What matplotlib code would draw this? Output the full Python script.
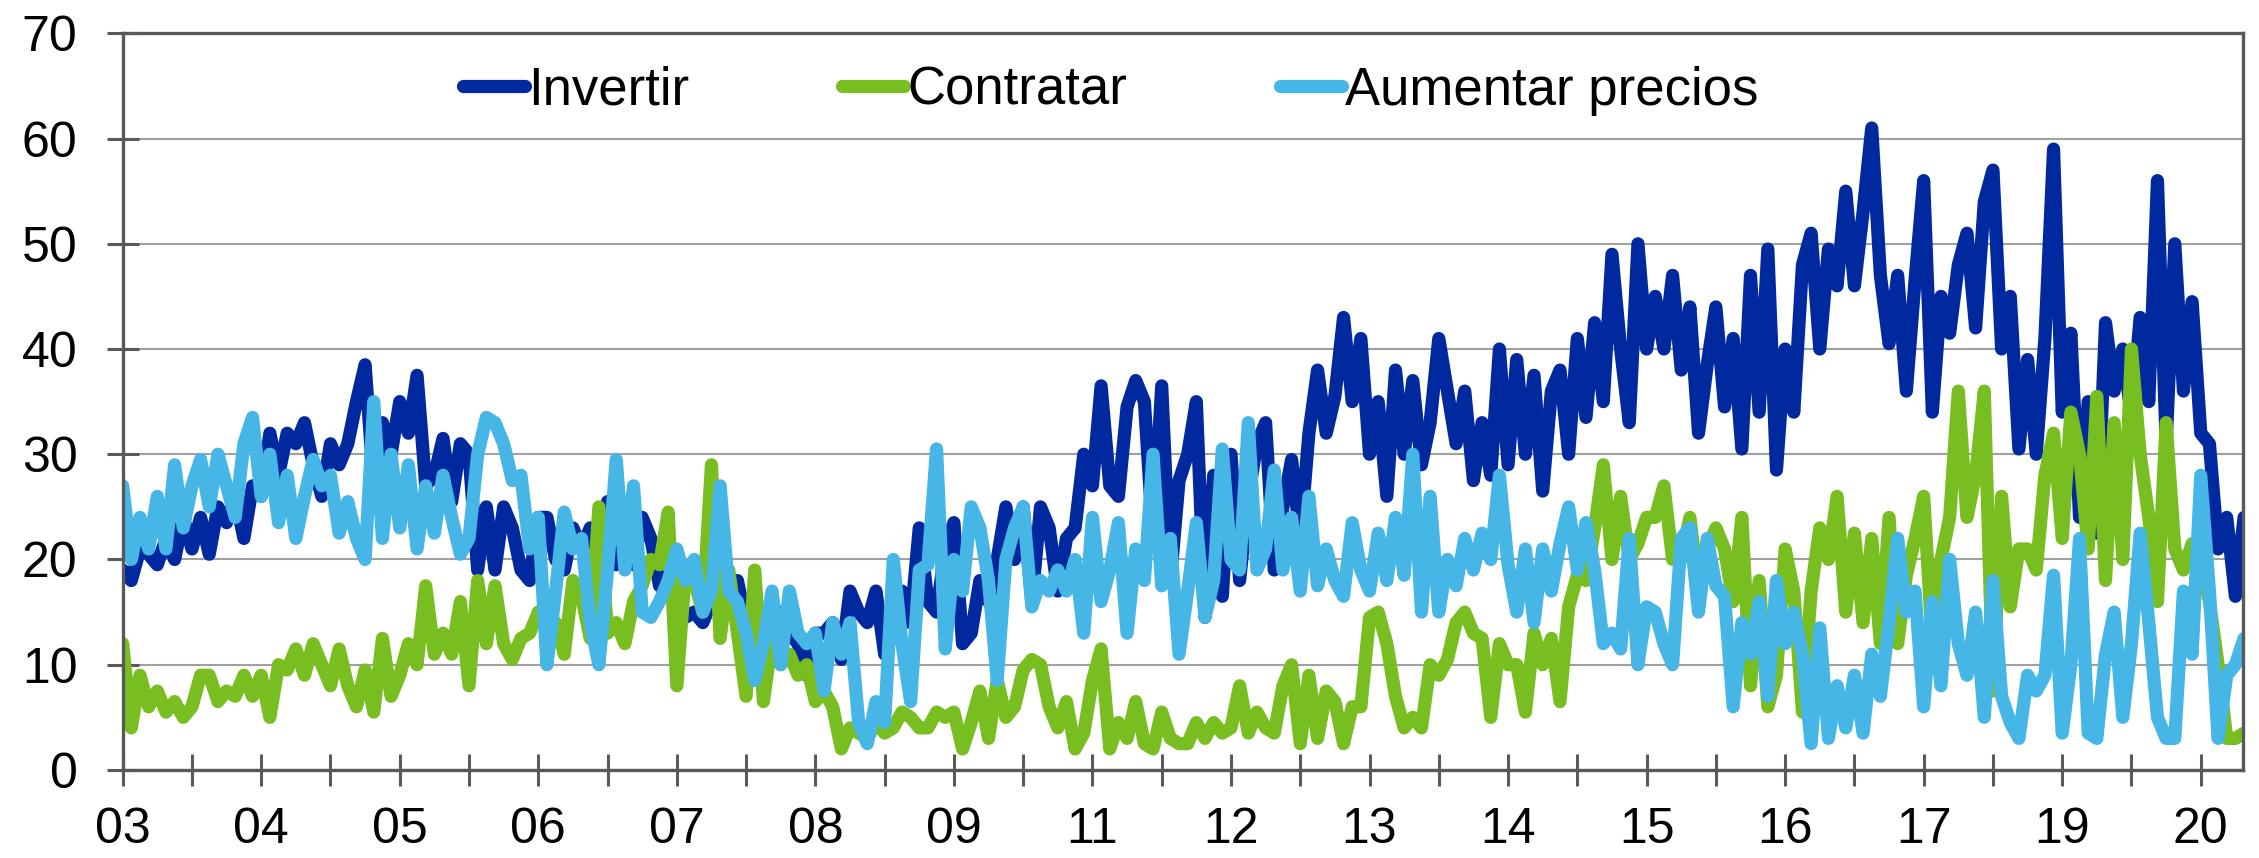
import numpy as np
import matplotlib
matplotlib.use("Agg")
import matplotlib.pyplot as plt

plt.rcParams['font.family'] = ['Liberation Sans', 'DejaVu Sans']

# etiquetas del eje x (una cada dos marcas)
year_labels = ['03', '04', '05', '06', '07', '08', '09', '11', '12',
               '13', '14', '15', '16', '17', '19', '20']
series_names = ['Invertir', 'Contratar', 'Aumentar precios']
series_colors = ['#0029a0', '#78be20', '#45b6e6']

# valores, 8 puntos por marca del eje x
invertir = [
    19, 18, 21, 20.5, 19.5, 22, 20, 24, 21, 24, 20.5, 25, 23.5, 26, 22, 27, 26, 32, 28, 32,
    31, 33, 29, 26, 31, 29, 31, 35, 38.5, 27, 33, 30, 35, 32, 37.5, 27, 28, 31.5, 25.5, 31, 30,
    19, 25, 19, 25, 23, 19, 18, 24, 24, 20, 19, 23, 21, 23, 20, 25.5, 19.5, 21, 19.5, 24,
    22, 17.5, 18.5, 17, 14.5, 15, 14, 16, 17, 17.5, 18, 14, 13.5, 14.5, 13, 15, 13, 12, 9, 13,
    13, 14, 10.5, 17, 15,
    14, 17, 11, 14, 17, 14, 23, 16, 15, 21, 23.5, 12, 13, 18, 16, 20, 25, 20, 25, 16,
    25, 23, 17, 22, 23, 30, 27, 36.5, 27, 26, 34.5, 37, 35, 22, 36.5, 18, 27.5, 30, 35, 14.5,
    28, 16.5, 30, 18, 26, 31,
    33, 19, 25, 29.5, 22, 32, 38, 32, 35.5, 43, 35, 41, 30, 35, 26, 38, 30, 37, 29, 33,
    41, 36, 31, 36, 27.5, 33, 28, 40, 29, 39, 30, 37.5, 26.5, 36, 38, 30, 41, 33.5, 42.5, 35,
    49, 40, 33, 50, 40,
    45, 40, 47, 38, 44, 32, 38.5, 44, 34.5, 41, 30.5, 47, 34, 49.5, 28.5, 40, 34, 48, 51, 40,
    49.5, 46, 55, 46, 53, 61, 47, 40.5, 47, 36, 46.5, 56, 34, 45, 41.5, 48,
    51, 42, 54, 57, 40, 45, 30.5, 39, 30, 41, 59, 34, 41.5, 24, 35, 22.5, 42.5, 36, 40, 33.5,
    43, 35, 56, 31, 50, 36, 44.5, 32, 31, 21, 24, 16.5, 24,
]

contratar = [
    12, 4, 9, 6, 7.5, 5.5, 6.5, 5, 6, 9, 9, 6.5, 7.5, 7, 9, 7, 9, 5, 10, 9.5,
    11.5, 9, 12, 10, 8, 11.5, 8, 6, 9.5, 5.5, 12.5, 7, 9, 12, 10, 17.5, 11, 13, 11, 16, 8,
    18, 12, 17.5, 12, 10.5, 12.5, 13, 15, 14, 14, 11, 18, 16.5, 12.5, 25, 13, 14, 12, 16, 17.5,
    20, 19.5, 24.5, 8, 19, 18, 15, 29, 12.5, 19, 13, 7, 19, 6.5, 12.5, 10, 11, 9, 10, 6.5,
    7.5, 6, 2, 4, 3.5,
    3, 4.5, 3.5, 4, 5.5, 5, 4, 4, 5.5, 5, 5.5, 2, 4.5, 7.5, 3, 8.5, 5, 6, 9.5, 10.5,
    10, 6, 4, 6.5, 2, 3.5, 8.5, 11.5, 2, 4.5, 3, 6.5, 2.5, 2, 5.5, 3, 2.5, 2.5, 4.5, 3,
    4.5, 3.5, 4, 8, 3.5, 5.5,
    4, 3.5, 8, 10, 2.5, 9, 3, 7.5, 6.5, 2.5, 6, 6, 14.5, 15, 12, 7, 4, 5, 4, 10,
    9, 10.5, 14, 15, 13, 12.5, 5, 12, 10, 10, 5.5, 13, 10, 12.5, 6.5, 15.5, 18.5, 18, 23, 29,
    20, 26, 20, 21.5, 24,
    24, 27, 20, 20, 24, 17, 21, 23, 21, 16, 24, 8, 18, 6, 9, 21, 17, 5.5, 17, 23,
    20, 26, 15, 22.5, 14, 22, 12, 24, 12, 18.5, 22, 26, 12, 20, 24, 36,
    24, 28, 36, 7.5, 26, 15.5, 21, 21, 19, 28, 32, 22, 34, 30, 21, 35.5, 18, 33, 20, 40,
    30, 24, 16, 33, 21, 19, 21.5, 20, 16, 10, 3, 3, 3.5,
]

aumentar_precios = [
    27, 20, 24, 21, 26, 21, 29, 23, 27, 29.5, 25, 30, 27, 24, 31, 33.5, 26, 30, 23.5, 28,
    22, 26, 29.5, 27, 28, 22.5, 25.5, 22, 20, 35, 22, 30, 23, 29, 21, 27, 22.5, 28, 24, 20.5, 22,
    30, 33.5, 33, 31, 27.5, 28, 21, 24, 10, 17, 24.5, 21, 22, 14, 10, 19, 29.5, 19, 27, 15,
    14.5, 16, 18, 21, 18, 20, 15, 17, 27, 17, 16, 13, 8.5, 12, 17, 10, 17, 13, 12, 13,
    7.5, 14, 11, 14, 4.5,
    2.5, 6.5, 4.5, 20, 12, 6.5, 19, 19.5, 30.5, 11.5, 20, 17, 25, 23, 18, 8.5, 20, 23, 25, 15.5,
    18, 17, 19, 17, 20, 13, 24, 16, 19, 23.5, 13, 21, 18, 30, 17.5, 22, 11, 17, 23.5, 14.5,
    18, 30.5, 20, 19, 33, 19,
    21, 28.5, 19, 24, 17, 26, 17.5, 21, 18, 16.5, 23.5, 19, 17, 22.5, 18, 24, 18.5, 30, 15, 26,
    15, 20, 17.5, 22, 19, 22.5, 20, 28, 19.5, 15, 21, 14, 21, 17, 21.5, 25, 19, 23.5, 19, 12,
    13, 11.5, 22, 10, 15.5,
    15, 12, 10, 22, 23, 15, 22, 17.5, 16.5, 6, 14, 11, 16, 7, 18, 12, 15, 11, 2.5, 13.5,
    3, 8, 4, 9, 3.5, 11, 7, 14, 22, 15, 17, 6, 16, 8, 20, 12,
    9, 15, 5, 18, 7, 4.5, 3, 9, 7.5, 9, 18.5, 3.5, 10, 22, 3.5, 3, 11, 15, 5, 12,
    22.5, 14, 5, 3, 3, 17, 11, 28, 17, 3, 9, 10, 12.5,
]

pts_per_tick = 8
n_ticks = 2 * len(year_labels) - 1
x = np.arange(len(invertir))

fig = plt.figure(figsize=(22.59, 8.58), dpi=100)
ax = fig.add_axes([0.0543, 0.1026, 0.9387, 0.8586])

for vals, color, name in zip([invertir, contratar, aumentar_precios], series_colors, series_names):
    ax.plot(x, vals, color=color, lw=9.5, label=name,
            solid_joinstyle='round', solid_capstyle='round')

ax.set_xlim(0, 244.9)
ax.set_ylim(0, 70)
ax.set_yticks(range(0, 71, 10))

tick_pos = np.arange(n_ticks) * pts_per_tick
tick_text = [year_labels[k // 2] if k % 2 == 0 else '' for k in range(n_ticks)]
ax.set_xticks(tick_pos)
ax.set_xticklabels(tick_text)

ax.grid(axis='y', color='#a0a0a0', lw=1.5)
ax.set_axisbelow(True)
for sp in ax.spines.values():
    sp.set_color('#595959')
    sp.set_linewidth(2.4)

ax.tick_params(axis='both', direction='inout', length=23, width=2.2,
               color='#595959', labelsize=36)
ax.tick_params(axis='x', pad=15)
ax.tick_params(axis='y', pad=21)

ax.legend(loc='center', bbox_to_anchor=(0.466, 0.922), ncol=3, frameon=False,
          fontsize=38, handlelength=1.17, handletextpad=0.06, columnspacing=2.9)

fig.savefig('out.png', dpi=100)
